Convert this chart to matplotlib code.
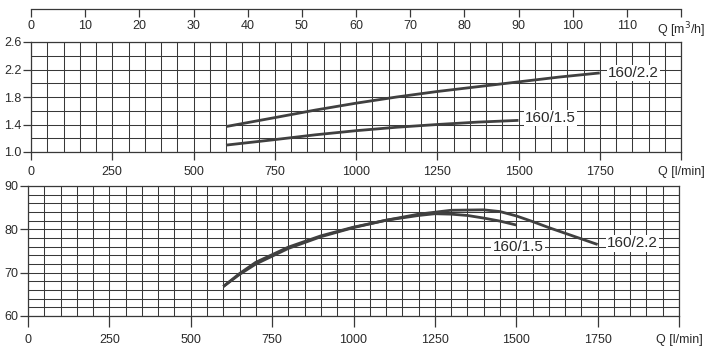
import matplotlib
matplotlib.use("Agg")
import matplotlib.pyplot as plt
import numpy as np

plt.rcParams['font.family'] = ['Liberation Sans', 'DejaVu Sans']

# ---- data ----
q_lmin_ticks = [0, 250, 500, 750, 1000, 1250, 1500, 1750, 2000]
q_lmin_labels = ['0', '250', '500', '750', '1000', '1250', '1500', '1750', 'Q [l/min]']
q_m3h_ticks = [0, 10, 20, 30, 40, 50, 60, 70, 80, 90, 100, 110, 120]
q_m3h_labels = ['0', '10', '20', '30', '40', '50', '60', '70', '80', '90', '100', '110', 'Q [m$^3$/h]']

# Power (upper panel)
p22_q = [600, 750, 875, 1000, 1125, 1250, 1375, 1500, 1625, 1750]
p22_v = [1.37, 1.50, 1.61, 1.71, 1.80, 1.88, 1.95, 2.02, 2.09, 2.15]
p15_q = [600, 750, 875, 1000, 1125, 1250, 1375, 1500]
p15_v = [1.10, 1.18, 1.25, 1.31, 1.36, 1.40, 1.435, 1.46]

# Efficiency (lower panel)
e22_q = [600, 650, 700, 800, 900, 1000, 1100, 1200, 1300, 1400, 1450, 1500, 1550, 1600, 1650, 1700, 1750]
e22_v = [66.8, 69.6, 72.0, 75.6, 78.3, 80.4, 82.1, 83.5, 84.4, 84.5, 84.1, 83.1, 81.8, 80.4, 79.1, 77.8, 76.5]
e15_q = [600, 650, 700, 800, 900, 1000, 1100, 1200, 1250, 1300, 1350, 1400, 1450, 1500]
e15_v = [66.8, 69.8, 72.4, 75.9, 78.5, 80.5, 82.1, 83.2, 83.6, 83.5, 83.2, 82.6, 81.9, 81.0]

labels = ['160/2.2', '160/1.5']

W, H = 711, 354
fig = plt.figure(figsize=(W / 100, H / 100), dpi=100)

def px_axes(left, top, right, bottom):
    return fig.add_axes([left / W, 1 - bottom / H, (right - left) / W, (bottom - top) / H])

gc = '#383838'
lc = '#404040'
tc = '#2a2a2a'

def style(ax, ymin, ymax, ystep_major, ystep_minor, ylabels):
    ax.set_xlim(0, 2000)
    ax.set_ylim(ymin, ymax)
    ax.set_xticks(q_lmin_ticks)
    ax.set_xticklabels(q_lmin_labels)
    ax.set_xticks(np.arange(0, 2001, 50), minor=True)
    yt = np.arange(ymin, ymax + 1e-9, ystep_major)
    ax.set_yticks(yt)
    ax.set_yticklabels(ylabels)
    ax.set_yticks(np.arange(ymin, ymax + 1e-9, ystep_minor), minor=True)
    ax.grid(which='both', color=gc, linewidth=0.75)
    ax.set_axisbelow(True)
    for s in ax.spines.values():
        s.set_color(gc)
        s.set_linewidth(0.9)
    ax.tick_params(which='minor', length=0)
    ax.tick_params(which='major', color=gc, width=0.9, labelsize=9, colors=tc)

# Upper panel
ax1 = px_axes(31, 42, 681, 152)
style(ax1, 1.0, 2.6, 0.4, 0.2, ['1.0', '1.4', '1.8', '2.2', '2.6'])
ax1.tick_params(axis='x', which='major', length=6, pad=4)
ax1.tick_params(axis='y', which='major', length=6, pad=1)
ax1.plot(p22_q, p22_v, color=lc, lw=2.0, solid_capstyle='butt', zorder=3)
ax1.plot(p15_q, p15_v, color=lc, lw=2.0, solid_capstyle='butt', zorder=3)
bb = dict(facecolor='white', edgecolor='none', pad=1.0)
ax1.text(1775, 2.15, labels[0], fontsize=11, ha='left', va='center', bbox=bb, zorder=4, color=tc)
ax1.text(1520, 1.495, labels[1], fontsize=11, ha='left', va='center', bbox=bb, zorder=4, color=tc)

# Lower panel
ax2 = px_axes(28, 186, 679, 316)
style(ax2, 60, 90, 10, 2, ['60', '70', '80', '90'])
ax2.tick_params(axis='x', which='major', length=8, pad=5)
ax2.tick_params(axis='y', which='major', length=6, pad=1)
ax2.plot(e22_q, e22_v, color=lc, lw=2.0, solid_capstyle='butt', zorder=3)
ax2.plot(e15_q, e15_v, color=lc, lw=2.0, solid_capstyle='butt', zorder=3)
ax2.text(1779, 76.8, labels[0], fontsize=11, ha='left', va='center', bbox=bb, zorder=4, color=tc)
ax2.text(1428, 75.9, labels[1], fontsize=11, ha='left', va='center', bbox=bb, zorder=4, color=tc)

# Top m3/h axis
ax3 = px_axes(31, 8, 681, 9)
ax3.set_xlim(0, 2000 / (1000 / 60))
ax3.set_ylim(0, 1)
ax3.patch.set_visible(False)
for k in ['top', 'left', 'right']:
    ax3.spines[k].set_visible(False)
ax3.spines['bottom'].set_color(gc)
ax3.spines['bottom'].set_linewidth(0.9)
ax3.set_yticks([])
ax3.set_xticks(q_m3h_ticks)
ax3.set_xticklabels(q_m3h_labels)
ax3.tick_params(axis='x', length=6, pad=2, color=gc, width=0.9, labelsize=9, colors=tc)

fig.savefig('out.png', dpi=100, facecolor='white')
